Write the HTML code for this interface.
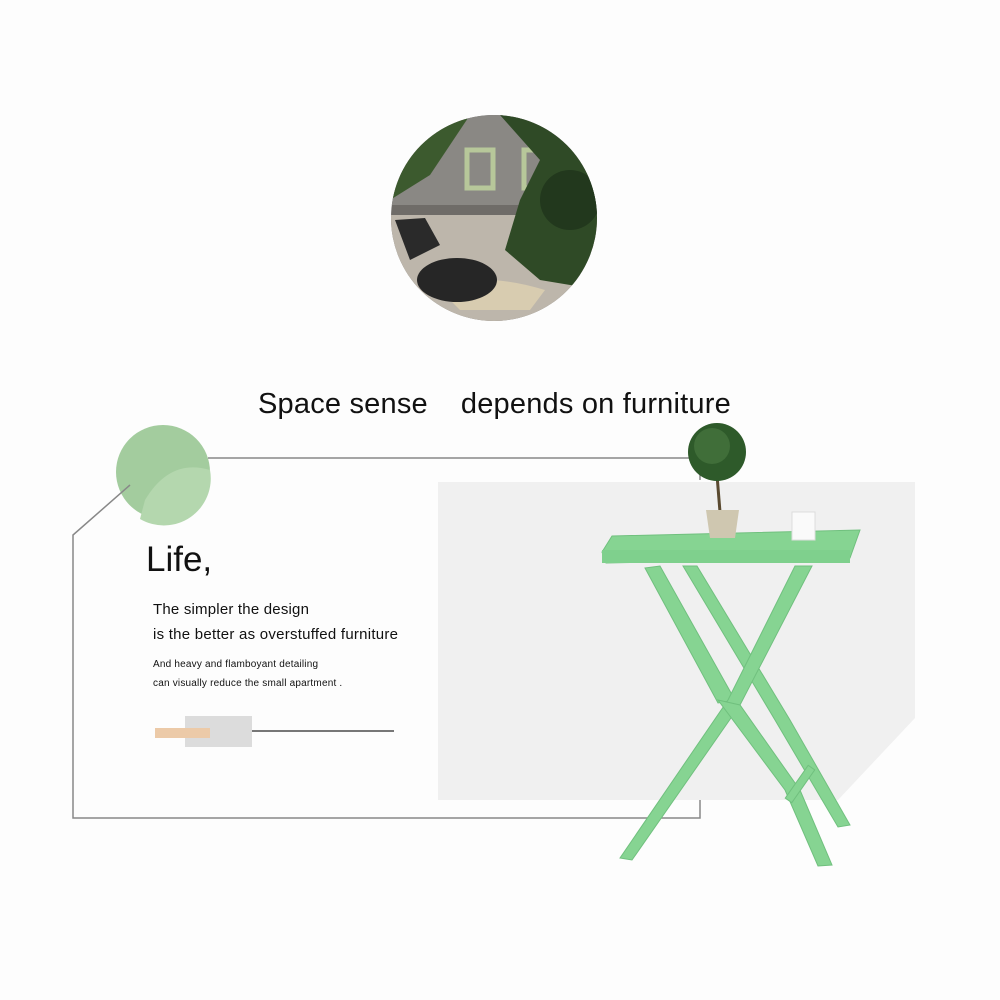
<!DOCTYPE html>
<html><head><style>
body{margin:0;width:1000px;height:1000px;background:#fdfdfd;position:relative;overflow:hidden;font-family:"Liberation Sans",sans-serif}
.t{position:absolute;color:#111;white-space:nowrap}
</style></head><body>
<svg width="1000" height="1000" style="position:absolute;left:0;top:0">
<defs><clipPath id="c"><circle cx="494" cy="218" r="103"/></clipPath></defs>
<g clip-path="url(#c)">
<rect x="390" y="115" width="210" height="210" fill="#6f6c68"/>
<rect x="390" y="115" width="210" height="90" fill="#8a8884"/>
<rect x="467" y="150" width="26" height="38" fill="none" stroke="#b7c79a" stroke-width="5"/>
<rect x="524" y="150" width="26" height="38" fill="none" stroke="#b7c79a" stroke-width="5"/>
<rect x="390" y="215" width="210" height="110" fill="#bdb6ab"/>
<path d="M440 290 Q480 270 545 290 L530 310 L460 310Z" fill="#d8ccb0"/>
<ellipse cx="457" cy="280" rx="40" ry="22" fill="#262626"/>
<path d="M395 220 L425 218 L440 245 L410 260Z" fill="#2a2a2a"/>
<path d="M390 115 L470 115 L430 175 L390 200Z" fill="#3c5a2e"/>
<path d="M500 115 L600 115 L600 290 L540 280 L505 250 L520 200 L540 160Z" fill="#2f4a26"/>
<circle cx="570" cy="200" r="30" fill="#22381d"/>
</g>
<circle cx="163" cy="472" r="47" fill="#a3cc9e"/>
<path d="M140 519 A47 47 0 0 0 210 470 Q170 458 145 500Z" fill="#b4d7ae"/>
<rect x="438" y="482" width="477" height="318" fill="#f0f0f0"/>
<polygon points="915,718 915,800 838,800" fill="#fdfdfd"/>
<g fill="none" stroke="#888" stroke-width="1.5">
<polyline points="208,458 700,458 700,480"/>
<polyline points="130,485 73,535 73,818 700,818 700,800"/>
<line x1="252" y1="731" x2="394" y2="731" stroke="#777" stroke-width="2"/>
</g>
<rect x="185" y="716" width="67" height="31" fill="#dcdcdc"/>
<rect x="155" y="728" width="55" height="10" fill="#eccaa8"/>
<g fill="#86d492" stroke="#70c07e" stroke-width="1">
<polygon points="645,568 660,566 735,700 718,703"/>
<polygon points="683,566 697,566 790,720 850,825 838,827 775,720"/>
<polygon points="795,566 812,566 740,705 632,860 620,858 728,700"/>
<path d="M718,700 L740,705 L800,790 L832,865 L818,866 L785,790Z"/>
<rect x="780" y="780" width="40" height="8" transform="rotate(-55 800 784)"/>
<polygon points="612,536 860,530 850,558 606,563 602,552"/>
</g>
<rect x="602" y="550" width="248" height="13" fill="#7fd08d"/>
<line x1="717" y1="475" x2="720" y2="512" stroke="#5a4a30" stroke-width="3"/>
<circle cx="717" cy="452" r="29" fill="#2e5a2a"/>
<circle cx="712" cy="446" r="18" fill="#4d7c45" opacity=".6"/>
<path d="M706 510 L739 510 L735 538 L710 538Z" fill="#cfc7b0"/>
<path d="M792 512 L815 512 L815 540 L792 540Z" fill="#fafafa" stroke="#ddd"/>
</svg>
<div class="t" style="left:258px;top:388px;font-size:29px;letter-spacing:0.2px">Space sense&nbsp;&nbsp;&nbsp; depends on furniture</div>
<div class="t" style="left:146px;top:540px;font-size:35px">Life,</div>
<div class="t" style="left:153px;top:601px;font-size:15px;letter-spacing:0.2px">The simpler the design</div>
<div class="t" style="left:153px;top:626px;font-size:15px;letter-spacing:0.25px">is the better as overstuffed furniture</div>
<div class="t" style="left:153px;top:659px;font-size:10px;letter-spacing:0.2px">And heavy and flamboyant detailing</div>
<div class="t" style="left:153px;top:678px;font-size:10px;letter-spacing:0.2px">can visually reduce the small apartment .</div>
</body></html>
